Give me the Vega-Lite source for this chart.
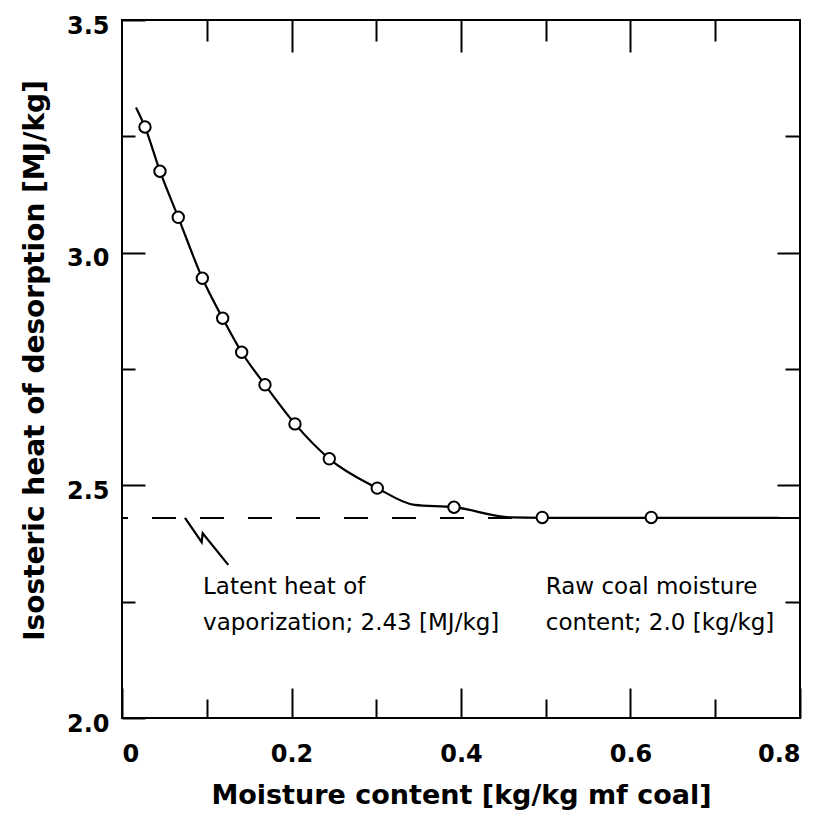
{
  "$schema": "https://vega.github.io/schema/vega-lite/v6.json",
  "width": 678,
  "height": 698,
  "autosize": {"type": "none"},
  "padding": {"left": 122, "top": 20, "right": 28, "bottom": 98},
  "background": "white",
  "config": {
    "view": {"stroke": "black", "strokeWidth": 2},
    "axis": {
      "domain": false,
      "grid": false,
      "tickColor": "black",
      "tickWidth": 2,
      "labelFont": "DejaVu Sans",
      "labelFontWeight": "bold",
      "labelFontSize": 24,
      "labelColor": "black",
      "titleFont": "DejaVu Sans",
      "titleFontWeight": "bold",
      "titleColor": "black"
    }
  },
  "datasets": {
    "latent": [{"y": 2.43}],
    "curve": [
      {"x": 0.0165, "y": 3.312},
      {"x": 0.0271, "y": 3.270},
      {"x": 0.0448, "y": 3.175},
      {"x": 0.0664, "y": 3.076},
      {"x": 0.0948, "y": 2.945},
      {"x": 0.1188, "y": 2.859},
      {"x": 0.1412, "y": 2.786},
      {"x": 0.1687, "y": 2.716},
      {"x": 0.2041, "y": 2.632},
      {"x": 0.2446, "y": 2.557},
      {"x": 0.3012, "y": 2.494},
      {"x": 0.345, "y": 2.458},
      {"x": 0.3917, "y": 2.453},
      {"x": 0.459, "y": 2.431},
      {"x": 0.4959, "y": 2.430},
      {"x": 0.6245, "y": 2.430},
      {"x": 0.775, "y": 2.430}
    ],
    "points": [
      {"x": 0.0271, "y": 3.270},
      {"x": 0.0448, "y": 3.175},
      {"x": 0.0664, "y": 3.076},
      {"x": 0.0948, "y": 2.945},
      {"x": 0.1188, "y": 2.859},
      {"x": 0.1412, "y": 2.786},
      {"x": 0.1687, "y": 2.716},
      {"x": 0.2041, "y": 2.632},
      {"x": 0.2446, "y": 2.557},
      {"x": 0.3012, "y": 2.494},
      {"x": 0.3917, "y": 2.453},
      {"x": 0.4959, "y": 2.431},
      {"x": 0.6245, "y": 2.431}
    ],
    "leader": [
      {"i": 0, "x": 0.0743, "y": 2.430},
      {"i": 1, "x": 0.0940, "y": 2.378},
      {"i": 2, "x": 0.0952, "y": 2.397},
      {"i": 3, "x": 0.1254, "y": 2.329}
    ],
    "notes": [
      {"x": 0.0956, "y": 2.2665, "label": "Latent heat of\nvaporization; 2.43 [MJ/kg]"},
      {"x": 0.5, "y": 2.2665, "label": "Raw coal moisture\ncontent; 2.0 [kg/kg]"}
    ]
  },
  "resolve": {"axis": {"x": "independent", "y": "independent"}},
  "layer": [
    {
      "data": {"name": "latent"},
      "mark": {"type": "rule", "color": "black", "strokeWidth": 2, "strokeDash": [24, 24]},
      "encoding": {
        "y": {"field": "y", "type": "quantitative", "axis": null, "scale": {"domain": [2.0, 3.5], "nice": false, "zero": false}}
      }
    },
    {
      "data": {"name": "curve"},
      "mark": {"type": "line", "color": "black", "strokeWidth": 2.2, "interpolate": "monotone"},
      "encoding": {
        "x": {
          "field": "x", "type": "quantitative",
          "scale": {"domain": [0, 0.8], "nice": false, "zero": false},
          "axis": {
            "orient": "bottom",
            "values": [0, 0.2, 0.4, 0.6, 0.8],
            "tickSize": -30,
            "labelPadding": 54,
            "labelBaseline": "top",
            "labelExpr": "datum.value == 0 ? '0' : format(datum.value, '.1f')",
            "title": "Moisture content [kg/kg mf coal]",
            "titleFontSize": 27,
            "titleBaseline": "alphabetic",
            "titleAlign": "center",
            "titleX": 339,
            "titleY": 85
          }
        },
        "y": {
          "field": "y", "type": "quantitative",
          "scale": {"domain": [2.0, 3.5], "nice": false, "zero": false},
          "axis": {
            "orient": "left",
            "values": [2.0, 2.5, 3.0, 3.5],
            "tickSize": -23,
            "labelPadding": 36,
            "labelOffset": 6,
            "format": ".1f",
            "title": "Isosteric heat of desorption [MJ/kg]",
            "titleFontSize": 28,
            "titleAngle": -90,
            "titleBaseline": "alphabetic",
            "titleAlign": "center",
            "titleX": -79,
            "titleY": 340
          }
        }
      }
    },
    {
      "data": {"name": "leader"},
      "mark": {"type": "line", "color": "black", "strokeWidth": 2.2},
      "encoding": {
        "x": {
          "field": "x", "type": "quantitative",
          "scale": {"domain": [0, 0.8], "nice": false, "zero": false},
          "axis": {"orient": "top", "values": [0.2, 0.4, 0.6], "tickSize": -32, "labels": false, "title": null}
        },
        "y": {
          "field": "y", "type": "quantitative",
          "scale": {"domain": [2.0, 3.5], "nice": false, "zero": false},
          "axis": {"orient": "right", "values": [2.5, 3.0], "tickSize": -23, "labels": false, "title": null}
        },
        "order": {"field": "i", "type": "quantitative"}
      }
    },
    {
      "data": {"name": "points"},
      "mark": {"type": "point", "shape": "circle", "filled": true, "fill": "white", "stroke": "black", "strokeWidth": 2, "size": 130, "opacity": 1},
      "encoding": {
        "x": {
          "field": "x", "type": "quantitative",
          "scale": {"domain": [0, 0.8], "nice": false, "zero": false},
          "axis": {"orient": "bottom", "values": [0.1, 0.3, 0.5, 0.7], "tickSize": -19, "labels": false, "title": null}
        },
        "y": {
          "field": "y", "type": "quantitative",
          "scale": {"domain": [2.0, 3.5], "nice": false, "zero": false},
          "axis": {"orient": "left", "values": [2.25, 2.75, 3.25], "tickSize": -13, "labels": false, "title": null}
        }
      }
    },
    {
      "data": {"name": "notes"},
      "mark": {"type": "text", "font": "DejaVu Sans", "fontSize": 23, "align": "left", "baseline": "alphabetic", "lineBreak": "\n", "lineHeight": 36, "color": "black"},
      "encoding": {
        "x": {
          "field": "x", "type": "quantitative",
          "scale": {"domain": [0, 0.8], "nice": false, "zero": false},
          "axis": {"orient": "top", "values": [0.1, 0.3, 0.5, 0.7], "tickSize": -21, "labels": false, "title": null}
        },
        "y": {
          "field": "y", "type": "quantitative",
          "scale": {"domain": [2.0, 3.5], "nice": false, "zero": false},
          "axis": {"orient": "right", "values": [2.25, 2.75, 3.25], "tickSize": -15, "labels": false, "title": null}
        },
        "text": {"field": "label", "type": "nominal"}
      }
    }
  ]
}
